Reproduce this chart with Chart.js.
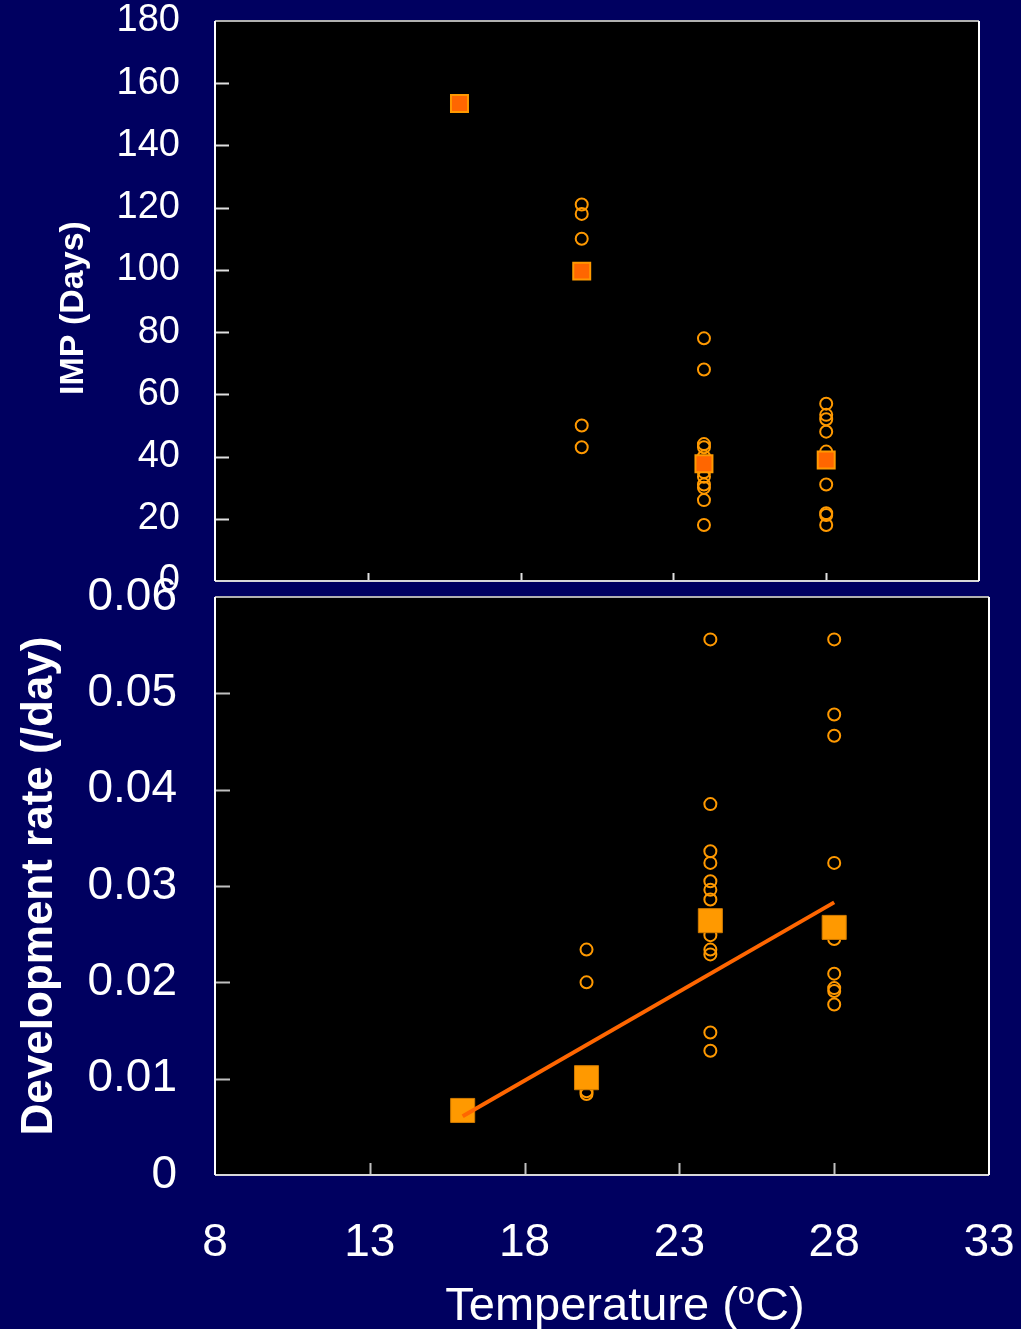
<!DOCTYPE html>
<html>
<head>
<meta charset="utf-8">
<script src="https://cdn.jsdelivr.net/npm/chart.js@4.4.1/dist/chart.umd.min.js"></script>
<style>
  html, body { margin: 0; padding: 0; background: #000060; }
  body { width: 1021px; height: 1329px; position: relative; overflow: hidden; }
  canvas { position: absolute; left: 0; top: 0; }
</style>
</head>
<body>
<canvas id="impChart" width="1021" height="1329"></canvas>
<canvas id="rateChart" width="1021" height="1329"></canvas>
<script>
// values
const temps = [16, 20, 24, 28];
const impMean = [153.5, 99.6, 37.7, 38.9];
const imp20 = [121, 118, 110, 50, 43];
const imp24 = [78, 68, 44, 43, 40, 35, 33.5, 31, 30, 26, 18];
const imp28 = [57, 53.4, 52, 48, 41.6, 31, 21.8, 21.2, 18];

const rateMean = [0.0067, 0.0101, 0.0264, 0.0257];
const rate20 = [0.0234, 0.0200, 0.0087, 0.0084];
const rate24 = [0.0556, 0.0385, 0.0336, 0.0324, 0.0305, 0.0296, 0.0286, 0.0249, 0.0234, 0.0229, 0.0148, 0.0129];
const rate28 = [0.0556, 0.0478, 0.0456, 0.0324, 0.0245, 0.0209, 0.0194, 0.0191, 0.0177];

const fitTemps = [16, 28];
const fitRate = [0.0061, 0.0283];

const xTicks = [8, 13, 18, 23, 28, 33];
const impTicks = [0, 20, 40, 60, 80, 100, 120, 140, 160, 180];
const rateTicks = [0, 0.01, 0.02, 0.03, 0.04, 0.05, 0.06];

const FONT = "Arial, 'Liberation Sans', sans-serif";
const ORANGE = '#ff9900';
const RED_ORANGE = '#ff6600';

function points(x, ys) {
  return ys.map(y => ({ x, y }));
}

// keep the plot area exactly where the layout padding puts it
function noLabelPadding(scale) {
  scale.paddingTop = 0;
  scale.paddingBottom = 0;
  scale.paddingLeft = 0;
  scale.paddingRight = 0;
}

// black plot area, inward tick marks, frame and hand-placed axis titles
const framePlugin = {
  id: 'frame',
  beforeDraw(chart) {
    const { ctx, chartArea: a } = chart;
    ctx.save();
    ctx.fillStyle = '#000';
    ctx.fillRect(a.left, a.top, a.width, a.height);
    ctx.restore();
  },
  afterDraw(chart, args, opts) {
    const { ctx, chartArea: a, scales } = chart;
    ctx.save();
    ctx.lineWidth = 2;
    ctx.strokeStyle = opts.tickColor;
    xTicks.slice(1, -1).forEach(v => {
      const px = Math.round(scales.x.getPixelForValue(v)) + 0.5;
      ctx.beginPath();
      ctx.moveTo(px, a.bottom);
      ctx.lineTo(px, a.bottom - opts.xTickLen);
      ctx.stroke();
    });
    opts.yTicks.slice(1, -1).forEach(v => {
      const py = Math.round(scales.y.getPixelForValue(v)) + 0.5;
      ctx.beginPath();
      ctx.moveTo(a.left, py);
      ctx.lineTo(a.left + opts.yTickLen, py);
      ctx.stroke();
    });
    // frame
    ctx.strokeStyle = '#b0b0b0';
    ctx.beginPath();
    ctx.moveTo(a.left, a.top); ctx.lineTo(a.right, a.top);
    ctx.stroke();
    ctx.strokeStyle = '#d8d8d8';
    ctx.beginPath();
    ctx.moveTo(a.left, a.bottom); ctx.lineTo(a.right, a.bottom);
    ctx.stroke();
    ctx.strokeStyle = '#ffffff';
    ctx.beginPath();
    ctx.moveTo(a.left, a.top); ctx.lineTo(a.left, a.bottom);
    ctx.moveTo(a.right, a.top); ctx.lineTo(a.right, a.bottom);
    ctx.stroke();

    // titles
    ctx.fillStyle = '#fff';
    ctx.textAlign = 'center';
    ctx.textBaseline = 'middle';
    ctx.font = opts.yTitleFont;
    ctx.translate(opts.yTitleX, opts.yTitleY);
    ctx.rotate(-Math.PI / 2);
    ctx.fillText(opts.yTitle, 0, 0);
    ctx.restore();

    if (opts.xTitle) {
      ctx.save();
      ctx.fillStyle = '#fff';
      ctx.textBaseline = 'alphabetic';
      const big = '47px ' + FONT;
      const small = '31px ' + FONT;
      const parts = [
        { t: 'Temperature (', f: big, dy: 0 },
        { t: 'o', f: small, dy: -16 },
        { t: 'C)', f: big, dy: 0 }
      ];
      let total = 0;
      parts.forEach(p => { ctx.font = p.f; p.w = ctx.measureText(p.t).width; total += p.w; });
      let x = opts.xTitleX - total / 2;
      parts.forEach(p => {
        ctx.font = p.f;
        ctx.fillText(p.t, x, opts.xTitleY + p.dy);
        x += p.w;
      });
      ctx.restore();
    }
  }
};

const circleStyle = {
  pointStyle: 'circle',
  pointRadius: 6,
  pointBorderWidth: 2,
  pointBorderColor: ORANGE,
  pointBackgroundColor: 'rgba(0,0,0,0)',
  showLine: false
};

new Chart(document.getElementById('impChart'), {
  type: 'scatter',
  data: {
    datasets: [
      {
        label: 'IMP means',
        data: temps.map((t, i) => ({ x: t, y: impMean[i] })),
        pointStyle: 'rect',
        pointRadius: 12,
        pointBorderWidth: 2,
        pointBorderColor: ORANGE,
        pointBackgroundColor: RED_ORANGE,
        order: 1
      },
      {
        label: 'IMP individuals',
        data: [...points(20, imp20), ...points(24, imp24), ...points(28, imp28)],
        ...circleStyle,
        order: 2
      }
    ]
  },
  options: {
    responsive: false,
    animation: false,
    events: [],
    layout: { padding: { top: 21, right: 42, left: 0, bottom: 0 } },
    plugins: {
      legend: { display: false },
      tooltip: { enabled: false },
      frame: {
        tickColor: '#e0e0e0',
        xTickLen: 8,
        yTickLen: 14,
        yTicks: impTicks,
        yTitle: 'IMP (Days)',
        yTitleFont: 'bold 34px ' + FONT,
        yTitleX: 74,
        yTitleY: 308
      }
    },
    scales: {
      x: {
        type: 'linear',
        min: xTicks[0],
        max: xTicks[xTicks.length - 1],
        ticks: { display: false, stepSize: 5 },
        grid: { display: false, drawTicks: false },
        border: { display: false },
        afterFit(scale) { scale.height = 748; noLabelPadding(scale); }
      },
      y: {
        type: 'linear',
        min: impTicks[0],
        max: impTicks[impTicks.length - 1],
        afterBuildTicks(scale) { scale.ticks = impTicks.map(v => ({ value: v })); },
        ticks: {
          color: '#fff',
          padding: 35,
          font: { family: FONT, size: 38, lineHeight: 1 }
        },
        grid: { display: false, drawTicks: false },
        border: { display: false },
        afterFit(scale) { scale.width = 215; noLabelPadding(scale); }
      }
    }
  },
  plugins: [framePlugin]
});

new Chart(document.getElementById('rateChart'), {
  type: 'scatter',
  data: {
    datasets: [
      {
        type: 'line',
        label: 'Fit',
        data: fitTemps.map((t, i) => ({ x: t, y: fitRate[i] })),
        borderColor: RED_ORANGE,
        borderWidth: 4,
        pointRadius: 0,
        fill: false,
        order: 0
      },
      {
        label: 'Rate means',
        data: temps.map((t, i) => ({ x: t, y: rateMean[i] })),
        pointStyle: 'rect',
        pointRadius: 17,
        pointBorderWidth: 1,
        pointBorderColor: '#d07a00',
        pointBackgroundColor: ORANGE,
        order: 1
      },
      {
        label: 'Rate individuals',
        data: [...points(20, rate20), ...points(24, rate24), ...points(28, rate28)],
        ...circleStyle,
        order: 2
      }
    ]
  },
  options: {
    responsive: false,
    animation: false,
    events: [],
    layout: { padding: { top: 597, right: 32, left: 0, bottom: 0 } },
    plugins: {
      legend: { display: false },
      tooltip: { enabled: false },
      frame: {
        tickColor: '#c0c0c0',
        xTickLen: 12,
        yTickLen: 15,
        yTicks: rateTicks,
        yTitle: 'Development rate (/day)',
        yTitleFont: 'bold 44px ' + FONT,
        yTitleX: 40,
        yTitleY: 886,
        xTitle: true,
        xTitleX: 625,
        xTitleY: 1320
      }
    },
    scales: {
      x: {
        type: 'linear',
        min: xTicks[0],
        max: xTicks[xTicks.length - 1],
        afterBuildTicks(scale) { scale.ticks = xTicks.map(v => ({ value: v })); },
        ticks: {
          color: '#fff',
          padding: 45,
          maxRotation: 0,
          font: { family: FONT, size: 46, lineHeight: 1 }
        },
        grid: { display: false, drawTicks: false },
        border: { display: false },
        afterFit(scale) { scale.height = 154; noLabelPadding(scale); }
      },
      y: {
        type: 'linear',
        min: rateTicks[0],
        max: rateTicks[rateTicks.length - 1],
        afterBuildTicks(scale) { scale.ticks = rateTicks.map(v => ({ value: v })); },
        ticks: {
          color: '#fff',
          padding: 38,
          font: { family: FONT, size: 46, lineHeight: 1 },
          callback: v => (v === 0 ? '0' : v.toFixed(2))
        },
        grid: { display: false, drawTicks: false },
        border: { display: false },
        afterFit(scale) { scale.width = 215; noLabelPadding(scale); }
      }
    }
  },
  plugins: [framePlugin]
});
</script>
</body>
</html>
